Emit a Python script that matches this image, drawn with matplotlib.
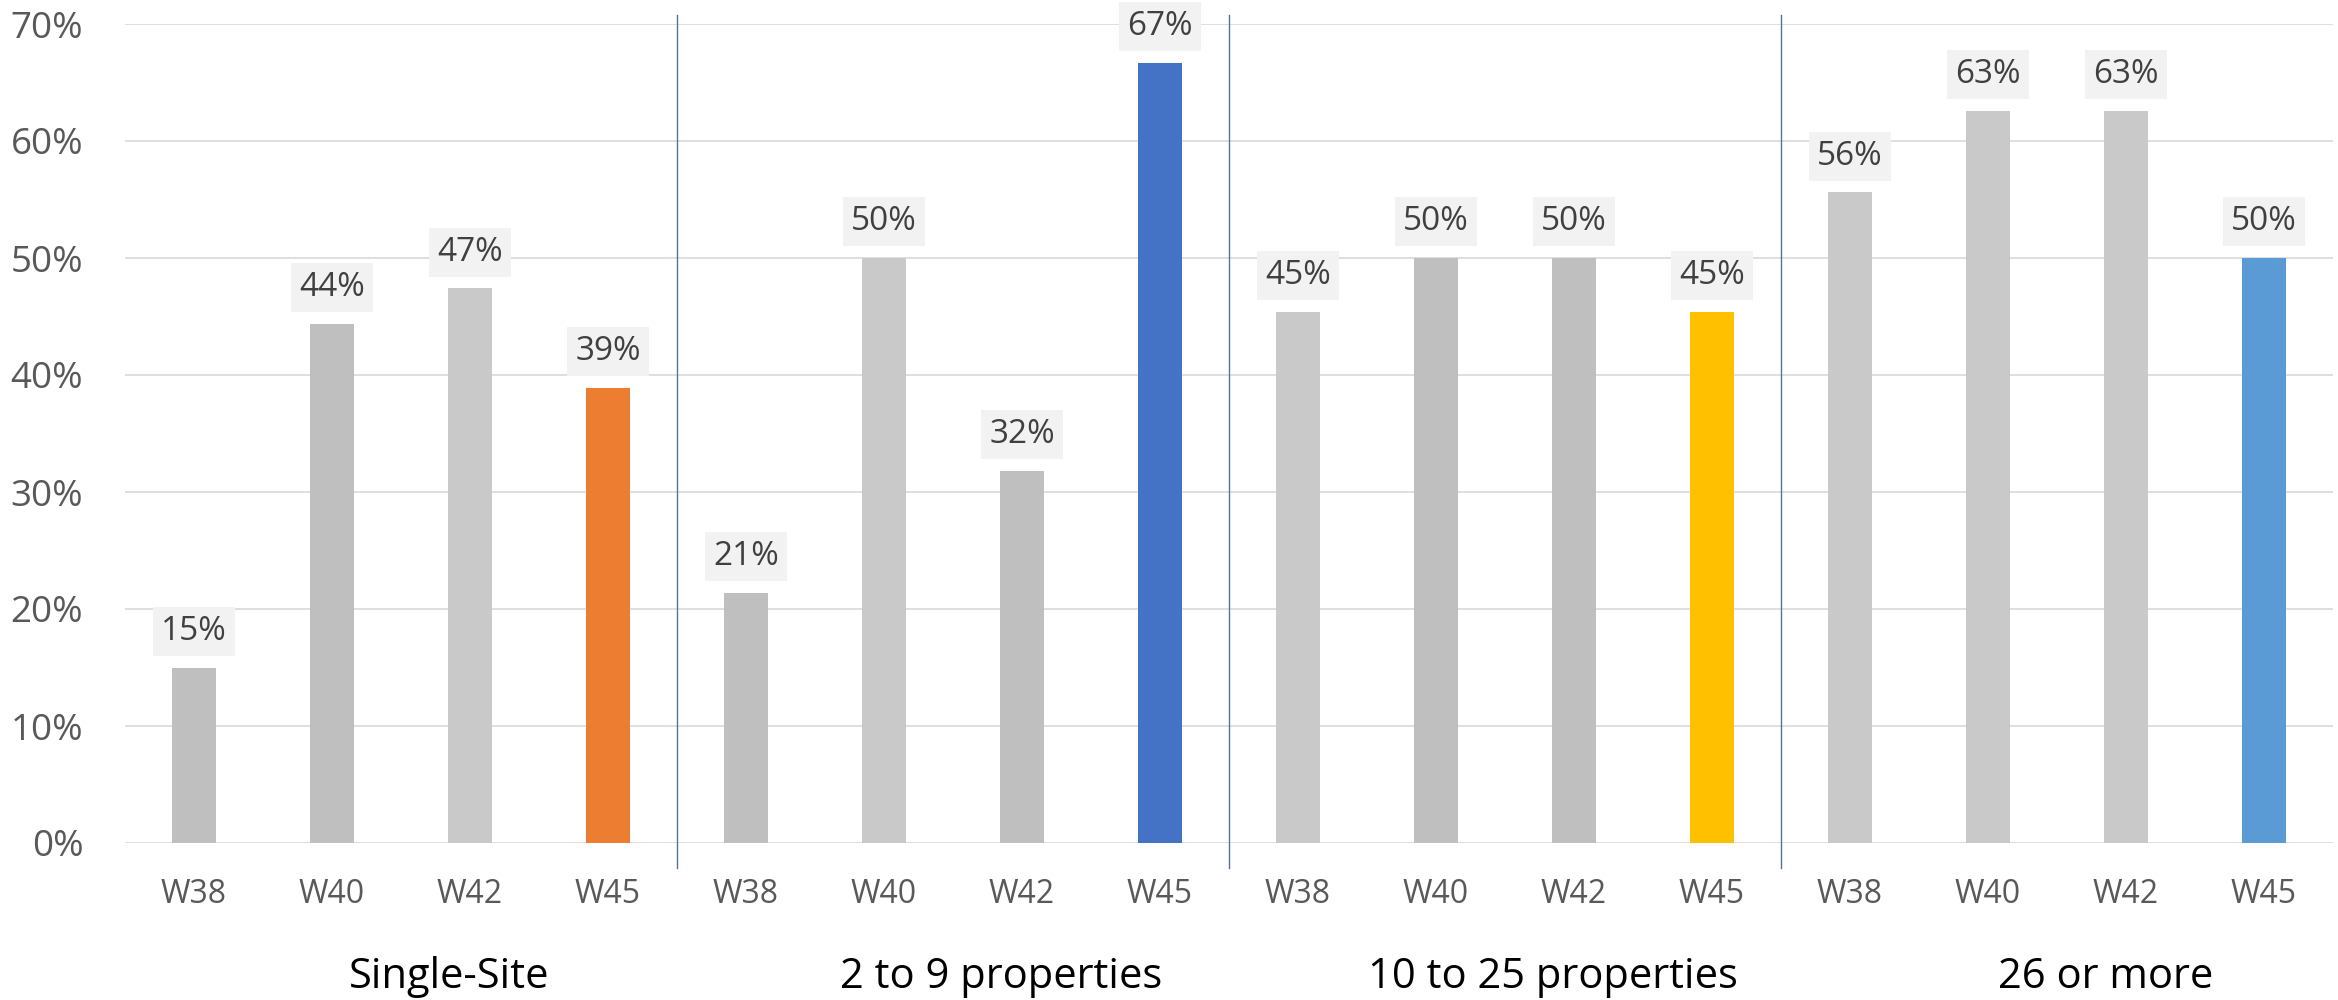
import matplotlib.pyplot as plt
import matplotlib.transforms as mtransforms

# chart data
GROUPS = ['Single-Site', '2 to 9 properties', '10 to 25 properties', '26 or more']
WEEKS = ['W38', 'W40', 'W42', 'W45']
VALUES = [
    [0.150, 0.444, 0.474, 0.389],
    [0.214, 0.500, 0.318, 0.667],
    [0.454, 0.500, 0.500, 0.454],
    [0.556, 0.626, 0.626, 0.500],
]

DARK = '#BFBFBF'
LIGHT = '#C9C9C9'
COLORS = [
    [DARK, DARK, LIGHT, '#ED7D31'],
    [DARK, LIGHT, DARK, '#4472C4'],
    [LIGHT, DARK, DARK, '#FFC000'],
    [LIGHT, LIGHT, LIGHT, '#5B9BD5'],
]

W, H = 2338, 1000
fig = plt.figure(figsize=(W / 100, H / 100), dpi=100)
ax = fig.add_axes([125 / W, (H - 843) / H, 2208 / W, 819 / H])

x = []
vals = []
cols = []
ticklabels = []
for g in range(len(GROUPS)):
    for i in range(len(WEEKS)):
        x.append(g * 4 + i)
        vals.append(VALUES[g][i])
        cols.append(COLORS[g][i])
        ticklabels.append(WEEKS[i])

ax.bar(x, vals, width=0.32, color=cols, zorder=3)

ax.set_xlim(-0.5, 15.5)
ax.set_ylim(0, 0.7)
ax.set_yticks([i / 10 for i in range(8)])
ax.set_yticklabels([f'{i * 10}%' for i in range(8)], fontsize=26.5, color='#595959',
                   family='Open Sans')
ax.set_xticks(x)
ax.set_xticklabels(ticklabels, fontsize=23, color='#595959', family='Open Sans')
ax.tick_params(axis='both', length=0)
ax.tick_params(axis='x', pad=25)
ax.tick_params(axis='y', pad=30)

ax.grid(axis='y', color='#D9D9D9', linewidth=1.2, zorder=0)
for s in ax.spines.values():
    s.set_visible(False)

# data labels
for xi, v in zip(x, vals):
    ax.annotate(f'{v * 100:.0f}%', (xi, v), xytext=(0, 26), textcoords='offset points',
                ha='center', va='center', fontsize=24, color='#404040', family='Open Sans',
                bbox=dict(boxstyle='square,pad=0.24', fc='#F2F2F2', ec='none'), zorder=4)

# group separators
for b in [3.5, 7.5, 11.5]:
    ax.plot([b, b], [0.7077, -0.0214], color='#4472C4', linewidth=1.0, clip_on=False, zorder=2)

# group labels (sit a bit right of the group centre, as in the original)
trans = mtransforms.blended_transform_factory(ax.transData, ax.transAxes)
for g, name in enumerate(GROUPS):
    ax.text(g * 4 + 1.85, -145 / 819, name, transform=trans, ha='center', va='baseline',
            fontsize=30, color='black', family='Open Sans')

plt.savefig('out.png', dpi=100)
